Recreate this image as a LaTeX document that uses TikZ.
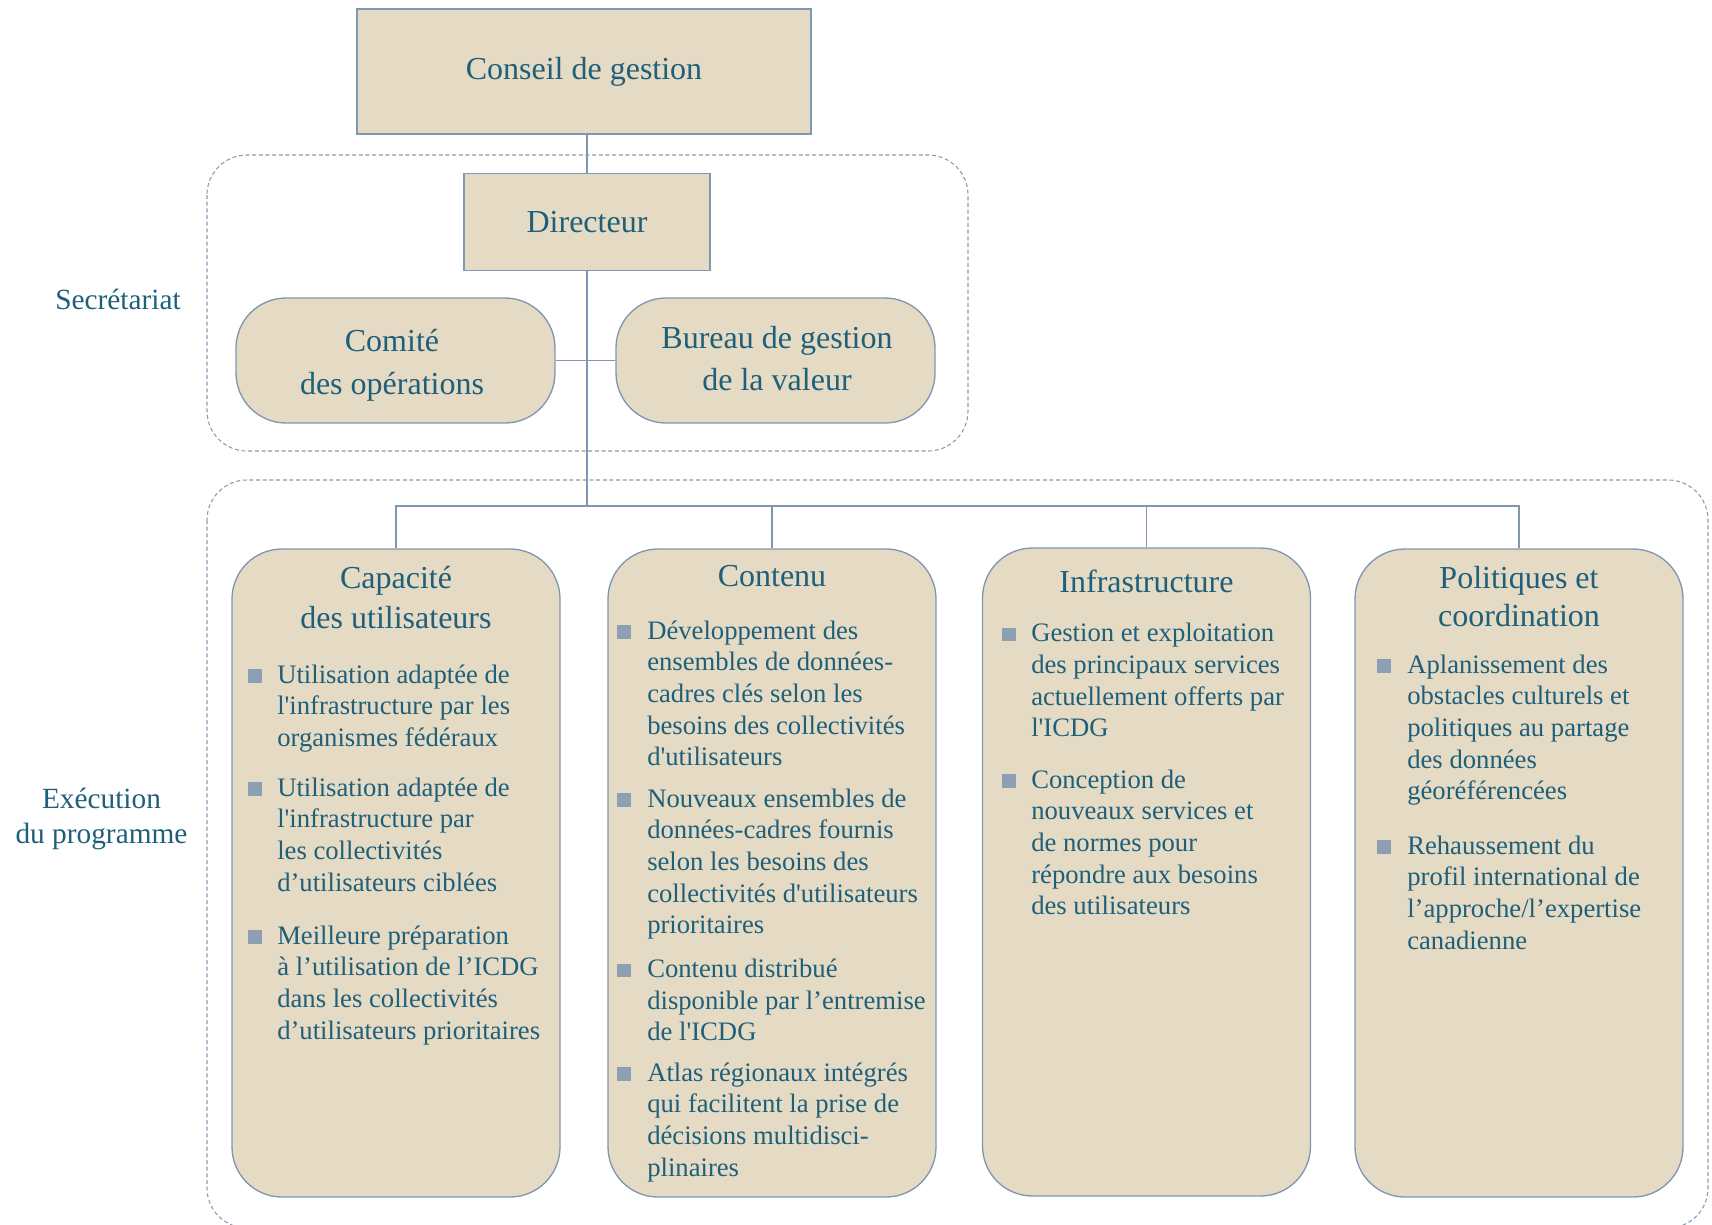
\documentclass[tikz,border=0pt]{standalone}
\usepackage{fontspec}
\setmainfont{Liberation Serif}[Ligatures=TeXOff]
\definecolor{txtC}{HTML}{1E5F7A}
\definecolor{fillC}{HTML}{E5DAC4}
\definecolor{lineC}{HTML}{8097B1}
\definecolor{bulC}{HTML}{8C9FB3}
\definecolor{dashC}{HTML}{8A9BB0}
\newcommand{\bp}[1]{\parbox[t]{260pt}{\raggedright #1}}
\newcommand{\tp}[1]{\parbox[t]{300pt}{\centering #1}}
\begin{document}
\begin{tikzpicture}[x=0.75pt,y=-0.75pt,
  conn/.style={draw=lineC, line width=1.1pt},
  sqbox/.style={draw=lineC, fill=fillC, line width=1pt, inner sep=0pt, text=txtC,
    font=\fontsize{24}{32}\selectfont, align=center},
  rbox/.style={sqbox, rounded corners=37.5pt, minimum width=239.25pt, minimum height=93.75pt},
  btxt/.style={text=txtC, font=\fontsize{24}{32}\selectfont, align=center, inner sep=0pt},
  col/.style={draw=lineC, fill=fillC, line width=1pt, rounded corners=37.5pt,
    minimum width=246pt, minimum height=486pt, inner sep=0pt},
  mk/.style={fill=bulC, minimum size=10.2pt, inner sep=0pt, anchor=south west},
  bul/.style={anchor=base west, inner sep=0pt, text=txtC, font=\fontsize{20}{23.8}\selectfont},
  ttl/.style={anchor=base, inner sep=0pt, text=txtC, font=\fontsize{24}{30}\selectfont},
  grp/.style={draw=dashC, dash pattern=on 3pt off 2pt, line width=0.8pt, rounded corners=30pt},
  lbl/.style={text=txtC, font=\fontsize{22}{26}\selectfont, align=center, inner sep=0pt}]
\useasboundingbox (0,0) rectangle (1712,1224);

% group frames
\draw[grp] (207,155) rectangle (968,451);
\draw[grp] (207,480) rectangle (1708,1228);

% labels
\node[lbl] (lsec) at (118,299) {Secrétariat};
\node[lbl] (lexe) at (101.5,819) {Exécution\\du programme};

% upper nodes
\node[sqbox, minimum width=340.5pt, minimum height=93.75pt] (top) at (584,71.5) {Conseil de gestion};
\node[sqbox, minimum width=184.5pt, minimum height=72.75pt] (dir) at (587,222) {Directeur};
\node[rbox] (com) at (395.5,360.5) {};
\node[btxt] (comt) at (392,365) {Comité\\des opérations};
\node[rbox] (bur) at (775.5,360.5) {};
\node[btxt] (burt) at (777,358.5) {Bureau de gestion\\de la valeur};

% columns
\node[col] (c1) at (396,873) {};
\node[col] (c2) at (772,873) {};
\node[col] (c3) at (1146.5,872) {};
\node[col] (c4) at (1519,873) {};

% connectors
\coordinate (bus) at (587,506);
\draw[conn] (top.south -| dir.north) -- (dir.north);
\draw[conn] (dir.south) -- (bus);
\draw[conn] (com.east) -- (bur.west);
\draw[conn] (c1.north) -- (c1.north |- bus) -- (c4.north |- bus) -- (c4.north);
\draw[conn] (c2.north) -- (c2.north |- bus);
\draw[conn] (c3.north) -- (c3.north |- bus);

% column 1
\node[ttl] (t1) at (396,588) {\tp{Capacité\\des utilisateurs}};
\node[mk] (m11) at (248,683) {};
\node[bul] (b11) at (277,683) {\bp{Utilisation adaptée de\\l'infrastructure par les\\organismes fédéraux}};
\node[mk] (m12) at (248,796) {};
\node[bul] (b12) at (277,796) {\bp{Utilisation adaptée de\\l'infrastructure par\\les collectivités\\d’utilisateurs ciblées}};
\node[mk] (m13) at (248,944) {};
\node[bul] (b13) at (277,944) {\bp{Meilleure préparation\\à l’utilisation de l’ICDG\\dans les collectivités\\d’utilisateurs prioritaires}};

% column 2
\node[ttl] (t2) at (772,586.5) {\tp{Contenu}};
\node[mk] (m21) at (617,639) {};
\node[bul] (b21) at (647,639) {\bp{Développement des\\ensembles de données-\\cadres clés selon les\\besoins des collectivités\\d'utilisateurs}};
\node[mk] (m22) at (617,807) {};
\node[bul] (b22) at (647,807) {\bp{Nouveaux ensembles de\\données-cadres fournis\\selon les besoins des\\collectivités d'utilisateurs\\prioritaires}};
\node[mk] (m23) at (617,977.5) {};
\node[bul] (b23) at (647,977.5) {\bp{Contenu distribué\\disponible par l’entremise\\de l'ICDG}};
\node[mk] (m24) at (617,1081) {};
\node[bul] (b24) at (647,1081) {\bp{Atlas régionaux intégrés\\qui facilitent la prise de\\décisions multidisci-\\plinaires}};

% column 3
\node[ttl] (t3) at (1146.5,592) {\tp{Infrastructure}};
\node[mk] (m31) at (1002,641.7) {};
\node[bul] (b31) at (1031,641.7) {\bp{Gestion et exploitation\\des principaux services\\actuellement offerts par\\l'ICDG}};
\node[mk] (m32) at (1002,788) {};
\node[bul] (b32) at (1031,788) {\bp{Conception de\\nouveaux services et\\de normes pour\\répondre aux besoins\\des utilisateurs}};

% column 4
\node[ttl, font=\fontsize{24}{28.5}\selectfont] (t4) at (1519,588) {\tp{Politiques et\\coordination}};
\node[mk] (m41) at (1377,673) {};
\node[bul] (b41) at (1407,673) {\bp{Aplanissement des\\obstacles culturels et\\politiques au partage\\des données\\géoréférencées}};
\node[mk] (m42) at (1377,854) {};
\node[bul] (b42) at (1407,854) {\bp{Rehaussement du\\profil international de\\l’approche/l’expertise\\canadienne}};
\end{tikzpicture}
\end{document}
